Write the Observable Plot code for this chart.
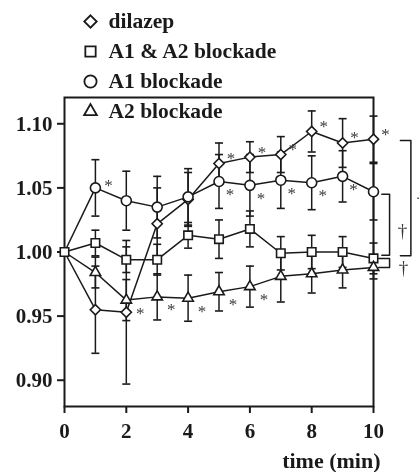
<!DOCTYPE html>
<html>
<head>
<meta charset="utf-8">
<script src="https://cdn.jsdelivr.net/npm/d3@7"></script>
<script src="https://cdn.jsdelivr.net/npm/@observablehq/plot@0.6"></script>
<style>
  html, body { margin: 0; padding: 0; background: #fff; overflow: hidden; }
  #chart { width: 419px; height: 472px; filter: grayscale(1); }
</style>
</head>
<body>
<div id="chart"></div>
<script>
// Time after onset (min)
const time = [0, 1, 2, 3, 4, 5, 6, 7, 8, 9, 10];
const xTicks = [0, 2, 4, 6, 8, 10];
const yTicks = [0.90, 0.95, 1.00, 1.05, 1.10];

const seriesNames = ["dilazep", "A1 & A2 blockade", "A1 blockade", "A2 blockade"];

// Normalised response, mean and SD per time point
const dilazepMean = [1.000, 0.955, 0.953, 1.022, 1.041, 1.069, 1.074, 1.076, 1.094, 1.085, 1.088];
const dilazepSD   = [0,     0.034, 0.056, 0.028, 0.021, 0.016, 0.012, 0.014, 0.016, 0.019, 0.018];
const dilazepSig  = [0, 0, 0, 0, 0, 1, 1, 1, 1, 1, 1];

const bothMean = [1.000, 1.007, 0.994, 0.994, 1.013, 1.010, 1.018, 0.999, 1.000, 1.000, 0.995];
const bothSD   = [0,     0.010, 0.010, 0.012, 0.010, 0.015, 0.014, 0.013, 0.013, 0.012, 0.012];
const bothSig  = [0, 0, 0, 0, 0, 0, 0, 0, 0, 0, 0];

const a1Mean = [1.000, 1.050, 1.040, 1.035, 1.043, 1.055, 1.052, 1.056, 1.054, 1.059, 1.047];
const a1SD   = [0,     0.022, 0.023, 0.024, 0.022, 0.021, 0.024, 0.022, 0.021, 0.020, 0.022];
const a1Sig  = [0, 1, 0, 0, 0, 1, 1, 1, 1, 1, 0];

const a2Mean = [1.000, 0.984, 0.9625, 0.965, 0.964, 0.969, 0.973, 0.981, 0.983, 0.986, 0.988];
const a2SD   = [0,     0.012, 0.016,  0.018, 0.018, 0.015, 0.016, 0.020, 0.015, 0.014, 0.009];
const a2Sig  = [0, 0, 1, 1, 1, 1, 1, 0, 0, 0, 0];

const means = [dilazepMean, bothMean, a1Mean, a2Mean];
const sds = [dilazepSD, bothSD, a1SD, a2SD];
const sigs = [dilazepSig, bothSig, a1Sig, a2Sig];

// Comparisons at 10 min (bracketed pairs) and the dagger marks between them
const brackets = [
  {top: "dilazep", bottom: "A1 & A2 blockade", inner: 0.87, outer: 1.21, insetTop: 0.001, insetBottom: 0.002},
  {top: "A1 blockade", bottom: "A1 & A2 blockade", inner: 0.27, outer: 0.52, insetTop: 0.002, insetBottom: 0.0025},
  {top: "A1 & A2 blockade", bottom: "A2 blockade", inner: 0.17, outer: 0.52, insetTop: 0, insetBottom: 0}
];
const daggers = [
  {top: "dilazep", bottom: "A1 & A2 blockade", dx: 48, dy: 2},
  {top: "A1 blockade", bottom: "A1 & A2 blockade", dx: 29, dy: 6},
  {top: "A1 & A2 blockade", bottom: "A2 blockade", dx: 30, dy: 5}
];

// ---- derived tables ----
const rows = seriesNames.flatMap((series, k) =>
  time.map((t, i) => ({series, t, v: means[k][i], sd: sds[k][i], sig: sigs[k][i]}))
);
const last = name => means[seriesNames.indexOf(name)][time.length - 1];
const tEnd = time[time.length - 1];

const symbolOf = {
  "dilazep": "diamond2",
  "A1 & A2 blockade": "square2",
  "A1 blockade": "circle",
  "A2 blockade": "triangle2"
};
const radiusOf = {
  "dilazep": 4.6,
  "A1 & A2 blockade": 5.4,
  "A1 blockade": 5,
  "A2 blockade": 5
};
// star placement next to a marker: [dx, dy]
const starOffset = {
  "dilazep": [12, -5],
  "A1 & A2 blockade": [12, 12],
  "A1 blockade": [11, 13],
  "A2 blockade": [14, 13]
};
const starAbove = new Set(["A1 blockade|1"]);

const capSymbol = {
  draw(context) {
    context.moveTo(-4, 0);
    context.lineTo(4, 0);
  }
};

const serif = "'Liberation Serif', 'Times New Roman', Times, serif";
const ink = "#1a1a1a";
const noteInk = "#3a3a3a";

const errRows = rows.filter(d => d.sd > 0);
const capRows = errRows.flatMap(d => [{t: d.t, y: d.v - d.sd}, {t: d.t, y: d.v + d.sd}]);

const bracketPaths = brackets.map(b => {
  const y1 = last(b.top) - b.insetTop;
  const y2 = last(b.bottom) + b.insetBottom;
  return [
    {x: tEnd + b.inner, y: y1},
    {x: tEnd + b.outer, y: y1},
    {x: tEnd + b.outer, y: y2},
    {x: tEnd + b.inner, y: y2}
  ];
});

const drawOrder = ["dilazep", "A1 blockade", "A1 & A2 blockade", "A2 blockade"];

const noteStyle = {fontFamily: serif, fill: noteInk, lineAnchor: "middle"};

const starMarks = seriesNames.map(name => {
  const pts = rows.filter(d => d.series === name && d.sig && !starAbove.has(name + "|" + d.t));
  const [dx, dy] = starOffset[name];
  return Plot.text(pts, {x: "t", y: "v", text: () => "*", dx, dy, fontSize: 17, ...noteStyle});
});
const starAboveMark = Plot.text(
  rows.filter(d => d.sig && starAbove.has(d.series + "|" + d.t)),
  {x: "t", y: "v", text: () => "*", dx: 13, dy: -2, fontSize: 17, ...noteStyle}
);

const legendMarks = seriesNames.flatMap((name, i) => [
  Plot.dot([name], {frameAnchor: "top-left", dx: 26, dy: -76 + 30 * i,
    symbol: symbolOf[name], r: radiusOf[name] * 1.22, fill: "white", stroke: ink, strokeWidth: 1.8}),
  Plot.text([name], {frameAnchor: "top-left", dx: 44, dy: -76 + 30 * i, text: d => d,
    textAnchor: "start", lineAnchor: "middle", fontSize: 21.5, fontWeight: "bold", fontFamily: serif, fill: ink})
]);

const chart = Plot.plot({
  width: 419,
  height: 472,
  marginLeft: 64,
  marginRight: 46,
  marginTop: 97,
  marginBottom: 66,
  x: {domain: [0, 10]},
  y: {domain: [0.8795, 1.1205]},
  style: {fontFamily: serif, background: "white", color: ink},
  marks: [
    Plot.frame({stroke: ink, strokeWidth: 2}),
    Plot.axisY({ticks: yTicks, tickFormat: d3.format(".2f"), tickSize: 7, tickPadding: 5,
      fontSize: 21, fontWeight: "bold", strokeWidth: 2, label: null}),
    Plot.axisX({ticks: xTicks, tickFormat: d => String(d), tickSize: 7, tickPadding: 10,
      fontSize: 21, fontWeight: "bold", strokeWidth: 2, label: null}),
    // error bars
    Plot.ruleX(errRows, {x: "t", y1: d => d.v - d.sd, y2: d => d.v + d.sd, stroke: ink, strokeWidth: 1.5}),
    Plot.dot(capRows, {x: "t", y: "y", symbol: capSymbol, fill: "none", stroke: ink, strokeWidth: 1.6}),
    // series lines
    Plot.line(rows, {x: "t", y: "v", z: "series", stroke: ink, strokeWidth: 1.5}),
    // markers (only A1 & A2 blockade shows its marker at baseline)
    ...drawOrder.map(name => Plot.dot(
      rows.filter(d => d.series === name && (d.t > 0 || name === "A1 & A2 blockade")),
      {x: "t", y: "v", symbol: symbolOf[name], r: radiusOf[name], fill: "white", stroke: ink, strokeWidth: 1.6}
    )),
    ...starMarks,
    starAboveMark,
    // comparison brackets at 10 min
    ...bracketPaths.map(p => Plot.line(p, {x: "x", y: "y", stroke: ink, strokeWidth: 1.5})),
    ...daggers.map(g => Plot.text([g], {
      x: () => tEnd, y: d => (last(d.top) + last(d.bottom)) / 2, text: () => "\u2020",
      dx: g.dx, dy: g.dy, fontSize: 19, ...noteStyle
    })),
    // legend
    ...legendMarks,
    // axis title
    Plot.text(["time (min)"], {frameAnchor: "bottom-right", dx: 7, dy: 54, text: d => d,
      textAnchor: "end", lineAnchor: "middle", fontSize: 22, fontWeight: "bold", fontFamily: serif, fill: ink})
  ]
});

document.getElementById("chart").appendChild(chart);
</script>
</body>
</html>
